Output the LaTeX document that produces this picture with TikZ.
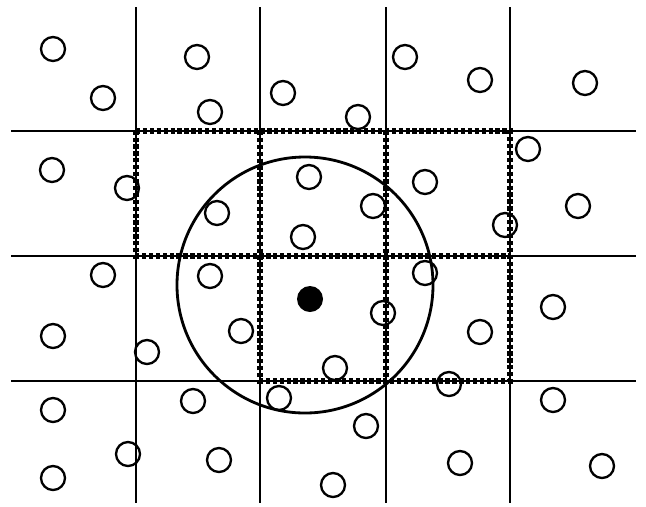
\documentclass[tikz,border=0pt]{standalone}
\usepackage{tikz}

\tikzset{
    particle/.style={draw, circle, line width=2pt, minimum size=7.2mm, inner sep=0pt},
    target/.style={fill, circle, minimum size=7.8mm, inner sep=0pt},
    cellline/.style={line width=2pt},
    nbrline/.style={line width=5pt, dash pattern=on 3.6pt off 2.3pt}
}

\begin{document}
\begin{tikzpicture}[x=0.3mm,y=-0.3mm]
        \useasboundingbox (0,0) rectangle (646,506);
        % Draw grid
        \foreach \x in {136,260,386,510}
            \draw[cellline] (\x,7) -- (\x,503);
        \foreach \y in {131,256,381}
            \draw[cellline] (11,\y) -- (636,\y);
        % Draw neighbour cells
        \draw[nbrline] (136,131) -- (510,131) -- (510,381) -- (260,381) -- (260,256) -- (136,256) -- cycle;
        \draw[nbrline] (260,131) -- (260,256) -- (510,256);
        \draw[nbrline] (386,131) -- (386,381);
        % Draw particles
        \foreach \x/\y [count=\i] in {53/49,103/98,197/57,210/112,283/93,358/117,405/57,480/80,585/83,
                52/170,127/188,217/213,309/177,303/237,373/206,425/182,505/225,528/149,578/206,
                103/275,210/276,53/336,147/352,241/331,425/273,383/313,335/368,480/332,553/307,
                53/410,193/401,279/398,449/384,553/400,128/454,219/460,53/478,366/426,333/485,460/463,602/466}
            \node[particle] (p\i) at (\x,\y) {};
        % Draw cutoff radius
        \node[target] (c) at (310,299) {};
        \draw[line width=2.4pt] (305,285) circle (38.4mm);
\end{tikzpicture}
\end{document}
